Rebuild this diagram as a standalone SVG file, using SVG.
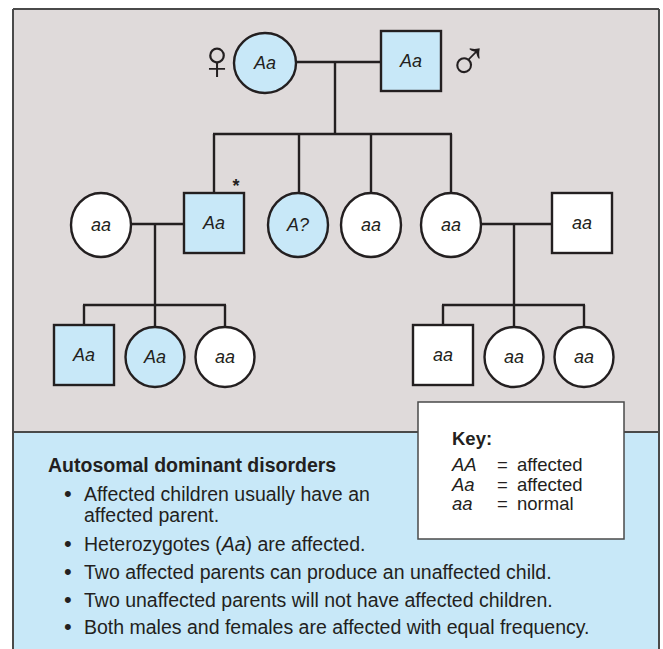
<svg xmlns="http://www.w3.org/2000/svg" width="663" height="649" viewBox="0 0 663 649">
<style>
.panel{stroke:#4a4a4a;stroke-width:2}
.aff{fill:#c8e8f8;stroke:#231f20;stroke-width:2.4}
.nor{fill:#ffffff;stroke:#231f20;stroke-width:2.4}
.lbl{font-family:"Liberation Sans",Arial,sans-serif;font-style:italic;font-size:18px;fill:#231f20;text-anchor:middle}
.con line{stroke:#231f20;stroke-width:2.4}
.txt{font-family:"Liberation Sans",Arial,sans-serif;font-size:19.5px;fill:#231f20}
.key{font-family:"Liberation Sans",Arial,sans-serif;font-size:18.5px;fill:#231f20}
.b{font-weight:bold}
.i{font-style:italic}
.bul{font-size:22px}
.sym{font-family:"DejaVu Sans",sans-serif;font-weight:200;font-size:56px;fill:#231f20;text-anchor:middle}
</style>
<rect x="0" y="0" width="663" height="649" fill="#ffffff"/>
<rect x="13" y="9" width="646" height="423" fill="#dfdada"/>
<rect x="13" y="432" width="646" height="220" fill="#c8e8f8"/>
<line class="panel" x1="13" y1="9" x2="659" y2="9"/>
<line class="panel" x1="13" y1="9" x2="13" y2="649"/>
<line class="panel" x1="659" y1="9" x2="659" y2="649"/>
<line class="panel" x1="13" y1="432" x2="659" y2="432"/>

<g id="connectors" class="con">
<line x1="296" y1="62" x2="381" y2="62"/>
<line x1="335" y1="62" x2="335" y2="134"/>
<line x1="213" y1="134" x2="452" y2="134"/>
<line x1="214" y1="134" x2="214" y2="193"/>
<line x1="299" y1="134" x2="299" y2="193"/>
<line x1="371" y1="134" x2="371" y2="193"/>
<line x1="451" y1="134" x2="451" y2="193"/>
<line x1="131" y1="224" x2="184" y2="224"/>
<line x1="155" y1="224" x2="155" y2="305"/>
<line x1="83" y1="305" x2="226" y2="305"/>
<line x1="84" y1="305" x2="84" y2="325"/>
<line x1="155" y1="305" x2="155" y2="327"/>
<line x1="225" y1="305" x2="225" y2="327"/>
<line x1="481" y1="224" x2="552" y2="224"/>
<line x1="514" y1="224" x2="514" y2="305"/>
<line x1="442" y1="305" x2="585" y2="305"/>
<line x1="443" y1="305" x2="443" y2="325"/>
<line x1="514" y1="305" x2="514" y2="327"/>
<line x1="584" y1="305" x2="584" y2="327"/>
</g>

<g id="sym-female"><text class="sym" x="217" y="79">♀</text></g>
<g id="sym-male"><text class="sym" x="468" y="80">♂</text></g>

<g id="g1-mother"><ellipse class="aff" cx="265" cy="63" rx="31" ry="30"/><text class="lbl" x="265" y="69">Aa</text></g>
<g id="g1-father"><rect class="aff" x="381" y="31" width="60" height="60"/><text class="lbl" x="411" y="67">Aa</text></g>

<g id="g2-wife"><ellipse class="nor" cx="101" cy="225" rx="30" ry="32"/><text class="lbl" x="101" y="231">aa</text></g>
<g id="g2-son"><rect class="aff" x="184" y="193" width="60" height="60"/><text class="lbl" x="214" y="229">Aa</text><text x="236" y="192" style="font-family:'Liberation Sans',Arial,sans-serif;font-size:18px;font-weight:bold;fill:#231f20;text-anchor:middle">*</text></g>
<g id="g2-daughter1"><ellipse class="aff" cx="298" cy="225" rx="30" ry="32"/><text class="lbl" x="298" y="231">A?</text></g>
<g id="g2-daughter2"><ellipse class="nor" cx="371" cy="225" rx="30" ry="32"/><text class="lbl" x="371" y="231">aa</text></g>
<g id="g2-daughter3"><ellipse class="nor" cx="451" cy="225" rx="30" ry="32"/><text class="lbl" x="451" y="231">aa</text></g>
<g id="g2-husband"><rect class="nor" x="552" y="193" width="60" height="60"/><text class="lbl" x="582" y="229">aa</text></g>

<g id="g3-l1"><rect class="aff" x="54" y="325" width="60" height="60"/><text class="lbl" x="84" y="361">Aa</text></g>
<g id="g3-l2"><ellipse class="aff" cx="155" cy="357" rx="29.5" ry="30"/><text class="lbl" x="155" y="363">Aa</text></g>
<g id="g3-l3"><ellipse class="nor" cx="225" cy="357" rx="29.5" ry="30"/><text class="lbl" x="225" y="363">aa</text></g>
<g id="g3-r1"><rect class="nor" x="413" y="325" width="60" height="60"/><text class="lbl" x="443" y="361">aa</text></g>
<g id="g3-r2"><ellipse class="nor" cx="514" cy="357" rx="29.5" ry="30"/><text class="lbl" x="514" y="363">aa</text></g>
<g id="g3-r3"><ellipse class="nor" cx="584" cy="357" rx="29.5" ry="30"/><text class="lbl" x="584" y="363">aa</text></g>

<g id="key">
<rect x="418" y="402" width="206" height="137" fill="#ffffff" stroke="#4a4a4a" stroke-width="1.5"/>
<text class="key b" x="452" y="445">Key:</text>
<text class="key" y="471"><tspan class="i" x="452">AA</tspan><tspan x="497">=</tspan><tspan x="517">affected</tspan></text>
<text class="key" y="490.5"><tspan class="i" x="452">Aa</tspan><tspan x="497">=</tspan><tspan x="517">affected</tspan></text>
<text class="key" y="510"><tspan class="i" x="452">aa</tspan><tspan x="497">=</tspan><tspan x="517">normal</tspan></text>
</g>

<g id="notes">
<text class="txt b" x="48" y="472">Autosomal dominant disorders</text>
<text class="txt" y="501"><tspan class="bul" x="64">•</tspan><tspan x="84">Affected children usually have an</tspan></text>
<text class="txt" x="84" y="522">affected parent.</text>
<text class="txt" y="551"><tspan class="bul" x="64">•</tspan><tspan x="84">Heterozygotes (</tspan><tspan class="i">Aa</tspan><tspan>) are affected.</tspan></text>
<text class="txt" y="579"><tspan class="bul" x="64">•</tspan><tspan x="84">Two affected parents can produce an unaffected child.</tspan></text>
<text class="txt" y="607"><tspan class="bul" x="64">•</tspan><tspan x="84">Two unaffected parents will not have affected children.</tspan></text>
<text class="txt" y="634"><tspan class="bul" x="64">•</tspan><tspan x="84">Both males and females are affected with equal frequency.</tspan></text>
</g>
</svg>
